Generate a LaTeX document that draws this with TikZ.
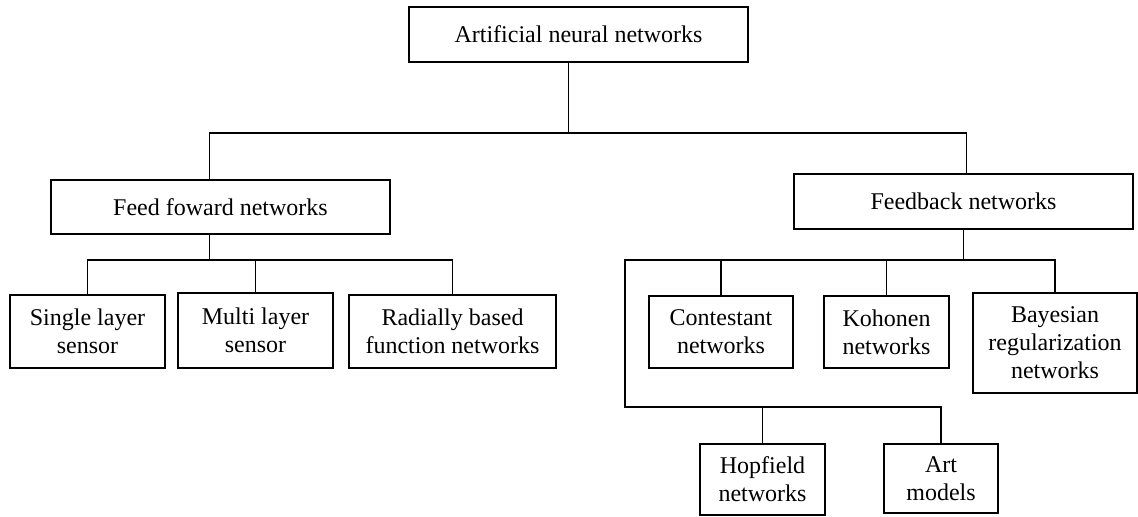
\documentclass[tikz,border=0pt]{standalone}
\usepackage{fontspec}
\setmainfont{Liberation Serif}
\usetikzlibrary{calc}
\tikzset{
	line width = .6pt,
	font = \fontsize{12}{14}\selectfont,
	box/.style={
		draw,
		rectangle,
		line width=.8pt,
		align=center,
		inner sep=0pt
	},
	leaf/.style={
		box,
		line width=1.3pt
	},
	link/.style={
		-,
		line width=.6pt
	}
}

\begin{document}
\begin{tikzpicture}[x=.5pt, y=-.5pt]
\useasboundingbox (0,0) rectangle (1138,516);
% ---
% root
% ---
\node[box, minimum width=169.5pt, minimum height=27.5pt] at (578.5,34.5) (ann) {Artificial neural networks};
\node[box, minimum width=169.5pt, minimum height=27pt] at (220.5,207) (ff) {Feed foward networks};
\node[box, minimum width=169.5pt, minimum height=27.5pt] at (963.5,201.5) (fb) {Feedback networks};

\coordinate (bus0) at (0,133);
\draw[link] ([xshift=-5pt]ann.south) -- ([xshift=-5pt]ann.south |- bus0);
\draw[link] ([xshift=-5.5pt]ff.north) |- ([xshift=1.5pt]fb.north |- bus0) -- ([xshift=1.5pt]fb.north);

% ---
% feed forward
% ---
\node[leaf, minimum width=77.5pt, minimum height=36.5pt] at (87.5,331.5) (single) {Single layer\\sensor};
\node[leaf, minimum width=77.5pt, minimum height=37.5pt] at (255.5,330.5) (multi) {Multi layer\\sensor};
\node[leaf, minimum width=103.5pt, minimum height=36.5pt] at (452.5,331.5) (radial) {Radially based\\function networks};

\coordinate (bus1) at (0,260);
\draw[link] ([xshift=-5.5pt]ff.south) -- ([xshift=-5.5pt]ff.south |- bus1);
\draw[link] (single.north) |- (radial.north |- bus1) -- (radial.north);
\draw[link] (multi.north) -- (multi.north |- bus1);

% ---
% feedback
% ---
\node[leaf, minimum width=72pt, minimum height=36pt] at (721,332) (contest) {Contestant\\networks};
\node[leaf, minimum width=62.5pt, minimum height=36pt] at (886.5,332) (kohonen) {Kohonen\\networks};
\node[box, minimum width=82pt, minimum height=50pt] at (1055,343) (bayes) {Bayesian\\regularization\\networks};
\node[box, minimum width=62.5pt, minimum height=35.5pt] at (762.5,479.5) (hopfield) {Hopfield\\networks};
\node[leaf, minimum width=57pt, minimum height=34.5pt] at (941,478.5) (art) {Art\\models};

\coordinate (bus2) at (625,260);
\coordinate (bus3) at (625,407);
\draw[link] (fb.south) -- (fb.south |- bus2);
\draw[link] (bayes.north) |- (bus2) -- (bus3) -| (art.north);
\draw[link] (contest.north) -- (contest.north |- bus2);
\draw[link] (kohonen.north) -- (kohonen.north |- bus2);
\draw[link] (hopfield.north) -- (hopfield.north |- bus3);
\end{tikzpicture}
\end{document}
